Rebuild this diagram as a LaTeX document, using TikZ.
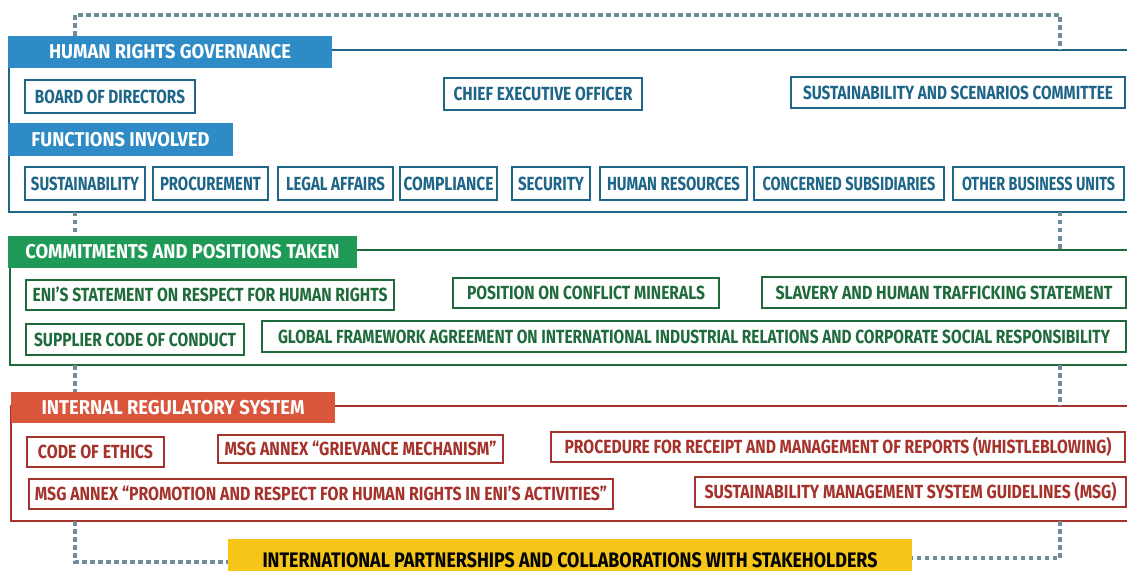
\documentclass[tikz,border=0pt]{standalone}
\usepackage{fontspec}
\setmainfont{Fira Sans}
\usepackage{graphicx}
\definecolor{hrblue}{HTML}{2E8BC6}
\definecolor{hrblueD}{HTML}{1E6587}
\definecolor{hrgreen}{HTML}{1E9A56}
\definecolor{hrgreenD}{HTML}{1F6B3C}
\definecolor{hrred}{HTML}{D9553C}
\definecolor{hrredD}{HTML}{A5322B}
\definecolor{hryel}{HTML}{F5C518}
\definecolor{dotc}{HTML}{6F8C9B}
\newlength\fitlen
\newcommand\fitto[2]{\settowidth\fitlen{#2}\pgfmathsetmacro\fitr{#1/\fitlen}\scalebox{\fitr}[1]{#2}}
\newcommand\bx[8]{\node[#1, minimum width=#5pt-#3pt, minimum height=#6pt-#4pt] (#2) at ({(#3+#5)/2},{(#4+#6)/2}) {\fitto{#7}{#8}};}
\tikzset{
 frame/.style={draw=#1, line width=1.5pt, anchor=north west, inner sep=0pt, outer sep=0pt},
 hdr/.style={fill=#1, text=white, inner sep=0pt, font=\fontsize{20}{22}\selectfont\bfseries, text height=13.8pt, text depth=0pt},
 bbox/.style={draw=#1, text=#1, fill=white, line width=1.3pt, inner sep=0pt, font=\fontsize{19}{21}\selectfont\bfseries, text height=13.1pt, text depth=0pt},
 ybox/.style={fill=hryel, text=black, inner sep=0pt, font=\fontsize{21}{23}\selectfont\bfseries, text height=25pt, text depth=0pt},
 conn/.style={draw=dotc, line width=3.5pt, dash pattern=on 4.5pt off 3.5pt},
}
\begin{document}
\begin{tikzpicture}[x=1pt,y=-1pt]
\useasboundingbox (0,0) rectangle (1127,572);
\fill[white] (0,0) rectangle (1127,572);
\clip (0,0) rectangle (1127,572);
% frames
\node[frame=hrblueD, minimum width=1130pt, minimum height=162pt] (frGov) at (9,50) {};
\node[frame=hrgreenD, minimum width=1130pt, minimum height=115pt] (frCom) at (10,250) {};
\node[frame=hrredD, minimum width=1130pt, minimum height=115pt] (frReg) at (11,406) {};
% headers
\bx{hdr=hrblue}{hGov}{8}{36}{332}{68}{242}{HUMAN RIGHTS GOVERNANCE}
\bx{hdr=hrblue}{hFun}{8}{123}{233}{156}{178}{FUNCTIONS INVOLVED}
\bx{hdr=hrgreen}{hCom}{8}{236}{357}{268}{314}{COMMITMENTS AND POSITIONS TAKEN}
\bx{hdr=hrred}{hReg}{11}{392}{335}{423}{263}{INTERNAL REGULATORY SYSTEM}
% governance
\bx{bbox=hrblueD}{bod}{25}{80}{195}{113}{150}{BOARD OF DIRECTORS}
\bx{bbox=hrblueD}{ceo}{444}{78}{642}{110}{179}{CHIEF EXECUTIVE OFFICER}
\bx{bbox=hrblueD}{ssc}{791}{77}{1125}{108}{310}{SUSTAINABILITY AND SCENARIOS COMMITTEE}
% functions
\bx{bbox=hrblueD}{fsus}{25}{167}{145}{200}{108}{SUSTAINABILITY}
\bx{bbox=hrblueD}{fpro}{153}{167}{268}{200}{101}{PROCUREMENT}
\bx{bbox=hrblueD}{fleg}{278}{167}{393}{200}{99}{LEGAL AFFAIRS}
\bx{bbox=hrblueD}{fcom}{400}{167}{497}{200}{90}{COMPLIANCE}
\bx{bbox=hrblueD}{fsec}{512}{167}{590}{200}{66}{SECURITY}
\bx{bbox=hrblueD}{fhr}{600}{167}{747}{200}{133}{HUMAN RESOURCES}
\bx{bbox=hrblueD}{fsub}{754}{167}{944}{200}{173}{CONCERNED SUBSIDIARIES}
\bx{bbox=hrblueD}{fobu}{953}{167}{1124}{200}{153}{OTHER BUSINESS UNITS}
% commitments
\bx{bbox=hrgreenD}{ceni}{26}{280}{394}{310}{355}{ENI’S STATEMENT ON RESPECT FOR HUMAN RIGHTS}
\bx{bbox=hrgreenD}{cpcm}{453}{278}{719}{308}{238}{POSITION ON CONFLICT MINERALS}
\bx{bbox=hrgreenD}{cslv}{762}{277}{1126}{308}{337}{SLAVERY AND HUMAN TRAFFICKING STATEMENT}
\bx{bbox=hrgreenD}{cscc}{26}{324}{244}{355}{202}{SUPPLIER CODE OF CONDUCT}
\bx{bbox=hrgreenD}{cgfa}{262}{321}{1126}{352}{832}{GLOBAL FRAMEWORK AGREEMENT ON INTERNATIONAL INDUSTRIAL RELATIONS AND CORPORATE SOCIAL RESPONSIBILITY}
% regulatory
\bx{bbox=hrredD}{rcoe}{27}{437}{164}{467}{115}{CODE OF ETHICS}
\bx{bbox=hrredD}{rgrv}{218}{435}{503}{463}{272}{MSG ANNEX “GRIEVANCE MECHANISM”}
\bx{bbox=hrredD}{rwhb}{551}{432}{1125}{462}{547}{PROCEDURE FOR RECEIPT AND MANAGEMENT OF REPORTS (WHISTLEBLOWING)}
\bx{bbox=hrredD}{rprm}{29}{479}{613}{509}{572}{MSG ANNEX “PROMOTION AND RESPECT FOR HUMAN RIGHTS IN ENI’S ACTIVITIES”}
\bx{bbox=hrredD}{rmsg}{695}{477}{1126}{507}{412}{SUSTAINABILITY MANAGEMENT SYSTEM GUIDELINES (MSG)}
% partnerships
\bx{ybox}{part}{228}{539}{912}{571}{615}{INTERNATIONAL PARTNERSHIPS AND COLLABORATIONS WITH STAKEHOLDERS}
% dotted connectors
\coordinate (tl) at (75,15);
\coordinate (tr) at (1060,15);
\coordinate (pl) at ([yshift=-7pt]part.west);
\coordinate (pr) at ([yshift=-3pt]part.east);
\draw[conn] (hGov.north -| tl) -- (tl) -- (tr) -- (tr |- frGov.north);
\draw[conn] (frGov.south -| tl) -- (hCom.north -| tl);
\draw[conn] (frGov.south -| tr) -- (frCom.north -| tr);
\draw[conn] (frCom.south -| tl) -- (hReg.north -| tl);
\draw[conn] (frCom.south -| tr) -- (frReg.north -| tr);
\draw[conn] (frReg.south -| tl) -- (tl |- pl) -- (pl);
\draw[conn] (frReg.south -| tr) -- (tr |- pr) -- (pr);
\end{tikzpicture}
\end{document}
